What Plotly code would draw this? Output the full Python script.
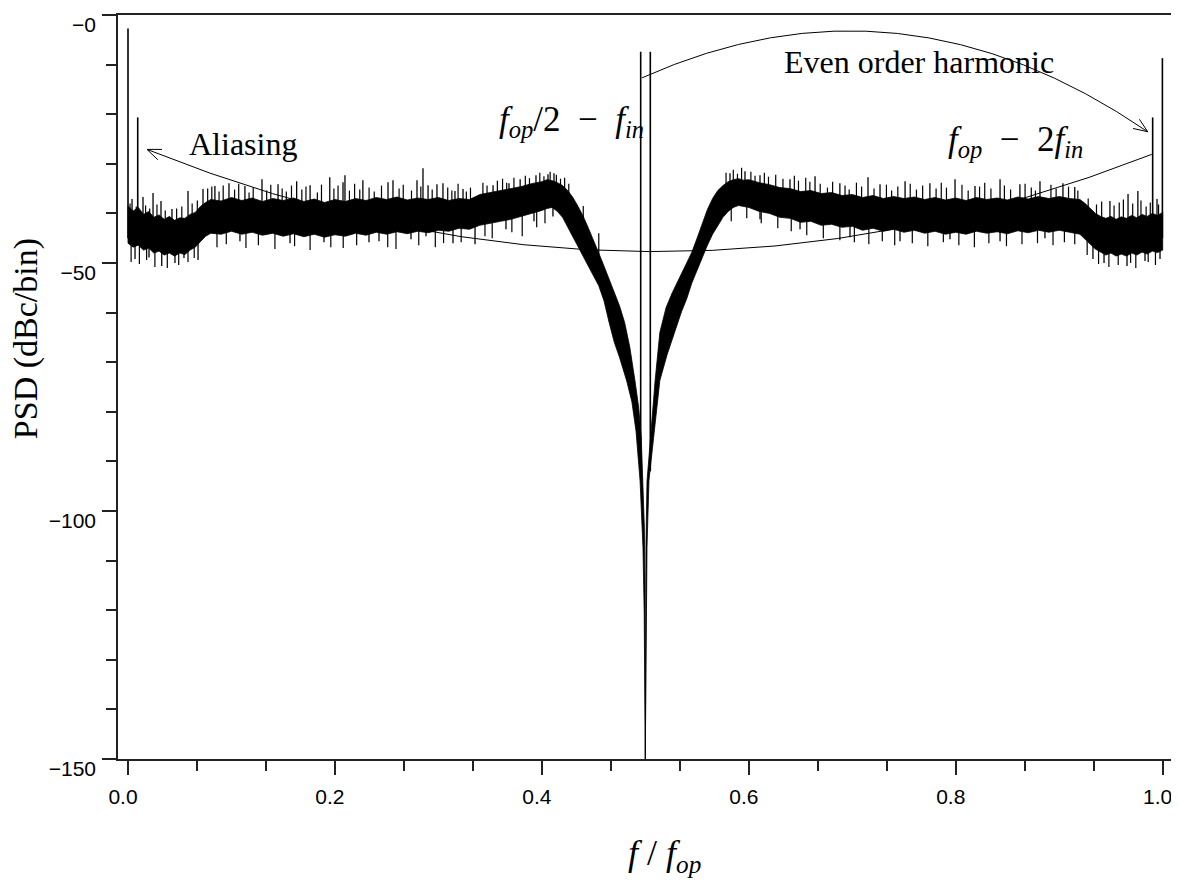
import math
import plotly.graph_objects as go

# ---------------- data ----------------
# upper edge of the dense noise band (f/f_op, dBc/bin)
upper_f = [0.000, 0.005, 0.010, 0.015, 0.020, 0.025, 0.030, 0.035, 0.040, 0.045,
           0.050, 0.055, 0.060, 0.065, 0.070, 0.075, 0.080, 0.090, 0.100, 0.110,
           0.120, 0.130, 0.140, 0.150, 0.160, 0.170, 0.180, 0.190, 0.200, 0.210,
           0.220, 0.230, 0.240, 0.250, 0.260, 0.270, 0.280, 0.290, 0.300, 0.310,
           0.320, 0.330, 0.340, 0.350, 0.360, 0.370, 0.380, 0.390, 0.400, 0.405,
           0.410, 0.415, 0.420, 0.425, 0.430, 0.435, 0.440, 0.445, 0.450, 0.455,
           0.460, 0.465, 0.470, 0.475, 0.480, 0.485, 0.490, 0.4935, 0.496, 0.4977,
           0.4990, 0.4997, 0.5001,
           0.5006, 0.5016, 0.5055, 0.5093, 0.5140, 0.5200, 0.5260, 0.5316, 0.5360,
           0.5400, 0.5450, 0.5500, 0.5550, 0.5600, 0.5650, 0.5700, 0.5750, 0.5800,
           0.5850, 0.5900, 0.5950, 0.6000, 0.6100, 0.6200, 0.6300, 0.6400, 0.6500,
           0.6600, 0.6700, 0.6800, 0.6900, 0.7000, 0.7100, 0.7200, 0.7300, 0.7400,
           0.7500, 0.7600, 0.7700, 0.7800, 0.7900, 0.8000, 0.8100, 0.8200, 0.8300,
           0.8400, 0.8500, 0.8600, 0.8700, 0.8800, 0.8900, 0.9000, 0.9100, 0.9200,
           0.9250, 0.9300, 0.9350, 0.9400, 0.9450, 0.9500, 0.9550, 0.9600, 0.9650,
           0.9700, 0.9750, 0.9800, 0.9850, 0.9900, 0.9950, 1.0000]
upper_v = [-38.5, -39.5, -38.8, -40.2, -39.6, -40.8, -40.3, -41.2, -40.6, -41.4,
           -40.9, -41.0, -40.2, -39.8, -38.6, -37.8, -37.2, -37.5, -36.8, -37.4,
           -36.9, -37.6, -37.0, -37.4, -36.9, -37.6, -37.1, -37.8, -37.2, -37.6,
           -37.0, -37.4, -36.8, -37.2, -36.7, -37.3, -36.9, -37.2, -36.8, -37.4,
           -37.0, -37.2, -36.2, -35.8, -35.4, -35.0, -34.6, -34.0, -33.6, -33.2,
           -33.4, -33.8, -34.4, -35.4, -36.8, -38.6, -40.6, -43.0, -45.4, -48.0,
           -50.6, -53.4, -56.0, -58.6, -62.0, -67.0, -73.8, -79.0, -85.0, -93.9,
           -103.0, -115.0, -150.0,
           -107.0, -94.0, -84.0, -74.0, -64.0, -59.0, -56.0, -53.6, -51.5,
           -50.0, -47.8, -45.0, -42.0, -39.2, -37.0, -35.4, -34.4, -33.6,
           -33.2, -33.0, -33.3, -33.2, -33.8, -34.2, -34.8, -35.0, -35.6,
           -35.4, -36.0, -35.8, -36.4, -36.2, -36.8, -36.4, -37.0, -36.6,
           -37.0, -36.7, -37.2, -36.8, -37.3, -36.9, -37.4, -36.8, -37.2,
           -36.9, -37.3, -36.7, -37.1, -36.6, -37.0, -36.6, -37.0, -37.2,
           -38.0, -39.0, -40.0, -40.6, -41.0, -40.6, -41.2, -40.7, -41.0,
           -40.4, -40.9, -40.2, -40.6, -40.0, -40.4, -39.8]

# lower edge of the dense noise band
lower_f = [0.000, 0.005, 0.010, 0.015, 0.020, 0.025, 0.030, 0.035, 0.040, 0.045,
           0.050, 0.055, 0.060, 0.065, 0.070, 0.075, 0.080, 0.090, 0.100, 0.110,
           0.120, 0.130, 0.140, 0.150, 0.160, 0.170, 0.180, 0.190, 0.200, 0.210,
           0.220, 0.230, 0.240, 0.250, 0.260, 0.270, 0.280, 0.290, 0.300, 0.310,
           0.320, 0.330, 0.340, 0.350, 0.360, 0.370, 0.380, 0.390, 0.400, 0.405,
           0.410, 0.415, 0.420, 0.425, 0.430, 0.435, 0.440, 0.445, 0.450, 0.455,
           0.460, 0.465, 0.470, 0.475, 0.482, 0.487, 0.491, 0.4949, 0.4977, 0.4989,
           0.4999,
           0.5003, 0.5010, 0.5016, 0.5035, 0.5084, 0.5140, 0.5210, 0.5287, 0.5350,
           0.5400, 0.5450, 0.5500, 0.5550, 0.5600, 0.5650, 0.5700, 0.5750, 0.5800,
           0.5850, 0.5900, 0.5950, 0.6000, 0.6100, 0.6200, 0.6300, 0.6400, 0.6500,
           0.6600, 0.6700, 0.6800, 0.6900, 0.7000, 0.7100, 0.7200, 0.7300, 0.7400,
           0.7500, 0.7600, 0.7700, 0.7800, 0.7900, 0.8000, 0.8100, 0.8200, 0.8300,
           0.8400, 0.8500, 0.8600, 0.8700, 0.8800, 0.8900, 0.9000, 0.9100, 0.9200,
           0.9250, 0.9300, 0.9350, 0.9400, 0.9450, 0.9500, 0.9550, 0.9600, 0.9650,
           0.9700, 0.9750, 0.9800, 0.9850, 0.9900, 0.9950, 1.0000]
lower_v = [-46.0, -46.8, -46.4, -47.4, -47.0, -48.0, -47.6, -48.4, -48.0, -48.6,
           -48.0, -48.3, -47.4, -46.8, -45.6, -44.6, -44.0, -44.2, -43.6, -44.2,
           -43.8, -44.4, -44.0, -44.6, -44.1, -44.7, -44.2, -44.8, -44.3, -44.6,
           -44.0, -44.4, -43.8, -44.2, -43.7, -44.1, -43.6, -43.9, -43.4, -43.6,
           -43.0, -43.2, -42.4, -42.0, -41.6, -41.2, -40.6, -40.0, -39.4, -39.0,
           -38.8, -39.6, -40.8, -42.6, -44.6, -46.6, -48.6, -50.6, -52.6, -54.6,
           -57.6, -62.0, -66.0, -69.0, -73.8, -78.0, -83.9, -93.9, -107.4, -120.7,
           -150.0,
           -150.0, -122.0, -107.3, -93.8, -83.8, -73.7, -68.5, -63.7, -59.8,
           -57.2, -54.0, -51.8, -49.0, -46.4, -44.2, -42.4, -40.8, -39.6,
           -38.8, -38.4, -38.6, -38.8, -39.6, -40.0, -40.8, -41.0, -41.8,
           -41.6, -42.4, -42.2, -42.8, -42.6, -43.4, -43.0, -43.6, -43.2,
           -43.8, -43.4, -44.0, -43.6, -44.2, -43.8, -44.2, -43.6, -44.0,
           -43.7, -44.1, -43.5, -43.9, -43.4, -43.8, -43.4, -43.8, -44.2,
           -45.2, -46.2, -47.2, -47.8, -48.4, -48.0, -48.6, -48.2, -48.6,
           -48.0, -48.4, -47.8, -48.2, -47.6, -47.9, -47.4]

# tall individual noise spikes: position, base inside band, tip
spike_f = [0.0039, 0.0145, 0.0242, 0.0319, 0.0425, 0.0580, 0.0725, 0.0840, 0.0976, 0.1130,
           0.1295, 0.1450, 0.1630, 0.1760, 0.1950, 0.2078, 0.2097, 0.2270, 0.2513, 0.2561,
           0.2793, 0.2851, 0.2900, 0.2986, 0.3044, 0.3160, 0.3238, 0.3528, 0.3682, 0.3790,
           0.3943, 0.4059, 0.4117,
           0.5818, 0.5963, 0.6108, 0.6398, 0.6640, 0.6880, 0.7152, 0.7268, 0.7510, 0.7750,
           0.7993, 0.8186, 0.8428, 0.8620, 0.8814, 0.9036, 0.9150, 0.9490, 0.9665, 0.9760,
           0.9945,
           0.0068, 0.0203, 0.0326, 0.0454, 0.0541, 0.0677, 0.1082, 0.1566, 0.1894, 0.2329,
           0.2426, 0.2735, 0.2880, 0.3141, 0.3354, 0.3653, 0.3924, 0.4107,
           0.6108, 0.6495, 0.6978, 0.7461, 0.7944, 0.8428, 0.8862, 0.9326, 0.9433, 0.9539,
           0.9655, 0.9829, 0.9974]
spike_base = [-43, -43, -43, -43, -43, -43, -41, -40, -40, -40,
              -40, -40, -40, -40, -40, -40, -40, -40, -40, -40,
              -40, -40, -40, -40, -40, -40, -40, -38, -37, -37,
              -36, -36, -36,
              -36, -36, -36, -38, -38, -39, -40, -40, -40, -40,
              -40, -40, -40, -40, -40, -40, -40, -44, -44, -44,
              -44,
              -43, -43, -43, -43, -43, -43, -40, -40, -40, -40,
              -40, -40, -40, -40, -40, -38, -36, -36,
              -36, -38, -40, -40, -40, -40, -40, -44, -44, -44,
              -44, -44, -44]
spike_tip = [-37.1, -36.7, -35.9, -37.5, -39.1, -35.5, -35.1, -34.5, -33.9, -34.5,
             -33.1, -34.1, -33.5, -34.3, -32.7, -33.7, -32.3, -33.3, -33.7, -33.3,
             -33.3, -30.9, -34.3, -34.1, -33.9, -35.5, -35.1, -34.3, -33.9, -33.1,
             -32.3, -32.1, -31.9,
             -31.9, -31.5, -32.3, -33.1, -32.5, -33.9, -32.7, -34.1, -33.5, -33.9,
             -33.1, -34.5, -33.1, -34.1, -33.5, -33.9, -34.7, -37.5, -36.1, -35.5,
             -37.1,
             -49.2, -48.9, -50.6, -50.0, -49.0, -49.4, -45.6, -46.0, -45.8, -45.8,
             -45.6, -45.2, -44.6, -46.0, -46.2, -43.2, -41.6, -40.6,
             -41.2, -43.2, -44.8, -45.6, -45.2, -45.6, -45.0, -49.2, -50.0, -48.2,
             -50.6, -49.6, -49.2]

# shorter noise spikes that make the ragged band edges
fine_f = [0.002, 0.008, 0.017, 0.021, 0.028, 0.036, 0.047, 0.052, 0.062, 0.067,
          0.077, 0.081, 0.088, 0.092, 0.103, 0.107, 0.117, 0.121, 0.134, 0.138,
          0.149, 0.153, 0.158, 0.168, 0.172, 0.183, 0.187, 0.199, 0.203, 0.214,
          0.219, 0.224, 0.233, 0.238, 0.245, 0.262, 0.266, 0.274, 0.283, 0.294,
          0.309, 0.313, 0.319, 0.327, 0.331,
          0.343, 0.347, 0.357, 0.362, 0.366, 0.373, 0.384, 0.388, 0.398, 0.402,
          0.408, 0.414, 0.418, 0.422, 0.426, 0.440, 0.455,
          0.578, 0.585, 0.589, 0.593, 0.602, 0.606, 0.615, 0.619, 0.626, 0.633,
          0.644, 0.648, 0.655, 0.659,
          0.669, 0.676, 0.681, 0.693, 0.697, 0.704, 0.709, 0.721, 0.733, 0.738,
          0.744, 0.756, 0.762, 0.768, 0.781, 0.786, 0.791, 0.806, 0.812, 0.823,
          0.828, 0.834, 0.847, 0.853, 0.867, 0.873, 0.877, 0.892, 0.897, 0.909,
          0.918,
          0.928, 0.936, 0.941, 0.953, 0.958, 0.962, 0.971, 0.979, 0.984, 0.988,
          0.996,
          0.003, 0.011, 0.018, 0.026, 0.038, 0.049, 0.058, 0.064,
          0.086, 0.095, 0.114, 0.126, 0.142, 0.161, 0.176, 0.196, 0.208, 0.221,
          0.251, 0.259, 0.281, 0.297, 0.305, 0.322,
          0.345, 0.352, 0.371, 0.381, 0.395, 0.403,
          0.583, 0.598, 0.612, 0.628, 0.641, 0.656,
          0.672, 0.688, 0.702, 0.716, 0.729, 0.741, 0.758, 0.773, 0.788, 0.803,
          0.818, 0.832, 0.849, 0.864, 0.879, 0.894, 0.905, 0.915,
          0.927, 0.938, 0.948, 0.957, 0.969, 0.974, 0.986, 0.993]
fine_base = [-43, -43, -43, -43, -43, -43, -43, -43, -43, -43,
             -40, -40, -40, -40, -40, -40, -40, -40, -40, -40,
             -40, -40, -40, -40, -40, -40, -40, -40, -40, -40,
             -40, -40, -40, -40, -40, -40, -40, -40, -40, -40,
             -40, -40, -40, -40, -40,
             -37, -37, -37, -37, -37, -37, -37, -37, -36, -36,
             -36, -36, -36, -37, -39, -44, -50,
             -36, -36, -36, -36, -36, -36, -36, -36, -36, -36,
             -37, -37, -38, -38,
             -40, -40, -40, -40, -40, -40, -40, -40, -40, -40,
             -40, -40, -40, -40, -40, -40, -40, -40, -40, -40,
             -40, -40, -40, -40, -40, -40, -40, -40, -40, -40,
             -40,
             -44, -44, -44, -44, -44, -44, -44, -44, -44, -44,
             -44,
             -43, -43, -43, -43, -43, -43, -43, -43,
             -40, -40, -40, -40, -40, -40, -40, -40, -40, -40,
             -40, -40, -40, -40, -40, -40,
             -37, -37, -37, -37, -37, -37,
             -36, -36, -36, -37, -38, -38,
             -40, -40, -40, -40, -40, -40, -40, -40, -40, -40,
             -40, -40, -40, -40, -40, -40, -40, -40,
             -44, -44, -44, -44, -44, -44, -44, -44]
fine_tip = [-38.0, -38.6, -38.4, -39.0, -38.2, -39.4, -39.0, -38.6, -38.0, -37.4,
            -35.0, -34.6, -35.6, -34.4, -35.2, -34.0, -35.8, -34.8, -35.4, -34.2,
            -35.0, -35.6, -34.4, -35.2, -34.6, -35.8, -34.2, -35.0, -34.4, -35.4,
            -34.0, -35.2, -34.8, -35.6, -34.4, -35.0, -34.2, -35.4, -34.6, -35.2,
            -34.8, -35.4, -34.0, -35.6, -34.8,
            -33.8, -34.4, -33.4, -33.0, -33.8, -32.8, -32.4, -32.9, -31.8, -32.5,
            -31.6, -32.2, -33.0, -32.8, -34.0, -38.5, -44.0,
            -31.8, -31.2, -32.0, -30.8, -31.6, -32.4, -31.8, -32.6, -32.2, -33.0,
            -32.4, -33.4, -32.8, -33.6,
            -34.0, -34.8, -33.6, -34.4, -35.2, -33.8, -34.6, -35.0, -34.2, -35.4,
            -34.6, -34.0, -35.2, -34.4, -35.0, -33.8, -34.8, -34.2, -35.4, -34.6,
            -33.8, -35.0, -34.4, -35.2, -34.0, -34.8, -35.4, -34.2, -35.0, -34.6,
            -35.4,
            -37.0, -38.2, -37.6, -38.4, -37.8, -37.2, -38.0, -37.4, -38.6, -37.8,
            -38.2,
            -49.8, -50.2, -49.4, -50.8, -51.0, -50.4, -49.8, -49.0,
            -46.8, -46.2, -47.0, -46.4, -47.2, -46.6, -47.4, -46.8, -47.0, -46.4,
            -46.8, -47.2, -46.4, -46.8, -46.0, -45.8,
            -44.6, -45.0, -43.8, -44.6, -42.8, -42.0,
            -41.6, -41.0, -42.0, -43.0, -43.6, -44.4,
            -45.0, -45.4, -45.8, -46.2, -45.6, -46.4, -46.0, -46.6, -45.8, -46.4,
            -46.8, -46.0, -46.6, -46.2, -46.0, -46.4, -45.8, -46.2,
            -48.4, -50.2, -50.8, -50.4, -50.0, -51.0, -49.8, -50.4]

# discrete tones
tone_f = [0.0000, 0.0094, 0.4955, 0.5048, 0.9903, 0.9997]
tone_top = [-2.7, -20.65, -7.4, -7.4, -20.65, -8.7]
tone_bottom = [-45.0, -46.0, -92.0, -92.0, -45.0, -45.0]

# axes
x_ticks = [0.0, 0.2, 0.4, 0.6, 0.8, 1.0]
x_ticktext = ["0.0", "0.2", "0.4", "0.6", "0.8", "1.0"]
x_minor = [1/15, 2/15, 4/15, 5/15, 7/15, 8/15, 10/15, 11/15, 13/15, 14/15]
y_ticks = [0, -50, -100, -150]
y_ticktext = ["\u22120", "\u221250", "\u2212100", "\u2212150"]
y_minor = [-10, -20, -30, -40, -60, -70, -80, -90, -110, -120, -130, -140]

# ---------------- figure ----------------
OFF = 8                      # page body margin offset
W, H = 1179 - OFF, 882 - OFF
ML, MR, MT, MB = 118 - OFF, 7, 13 - OFF, 123
XR = [-0.00966, 1.00899]
YR = [-150, 0]
pw, ph = W - ML - MR, H - MT - MB
sx = pw / (XR[1] - XR[0])
sy = ph / (YR[1] - YR[0])


def paper_x(px):
    return (px - OFF - ML) / pw


def paper_y(py):
    return (H - MB - (py - OFF)) / ph


def segments(xs, lo, hi):
    X, Y = [], []
    for f, a, b in zip(xs, lo, hi):
        X += [f, f, None]
        Y += [a, b, None]
    return X, Y


fig = go.Figure()

poly_x = upper_f + lower_f[::-1] + [upper_f[0]]
poly_y = upper_v + lower_v[::-1] + [upper_v[0]]
fig.add_trace(go.Scatter(x=poly_x, y=poly_y, mode="lines", fill="toself",
                         fillcolor="black", line=dict(color="black", width=0.8),
                         hoverinfo="skip", showlegend=False))

fx, fy = segments(fine_f, fine_base, fine_tip)
fig.add_trace(go.Scatter(x=fx, y=fy, mode="lines",
                         line=dict(color="black", width=1.2),
                         hoverinfo="skip", showlegend=False))

spx, spy = segments(spike_f, spike_base, spike_tip)
fig.add_trace(go.Scatter(x=spx, y=spy, mode="lines",
                         line=dict(color="black", width=1.3),
                         hoverinfo="skip", showlegend=False))

tx, ty = segments(tone_f, tone_bottom, tone_top)
fig.add_trace(go.Scatter(x=tx, y=ty, mode="lines",
                         line=dict(color="black", width=1.6),
                         hoverinfo="skip", showlegend=False))


def arrow_head(head, toward, length=15, half_angle=22):
    dx = (toward[0] - head[0]) * sx
    dy = (toward[1] - head[1]) * sy
    n = math.hypot(dx, dy)
    ux, uy = dx / n, dy / n
    pts = []
    for s in (1, -1):
        a = math.radians(half_angle) * s
        rx = ux * math.cos(a) - uy * math.sin(a)
        ry = ux * math.sin(a) + uy * math.cos(a)
        pts.append((head[0] + rx * length / sx, head[1] + ry * length / sy))
    return "M {:.5f},{:.4f} L {:.5f},{:.4f} L {:.5f},{:.4f}".format(
        pts[0][0], pts[0][1], head[0], head[1], pts[1][0], pts[1][1])


shapes = []
# Aliasing curve (right end at fop-2fin tone, arrow at the left)
a0, a1, a2 = (0.0184, -27.1), (0.504, -67.8), (0.9894, -28.1)
shapes.append(dict(type="path", xref="x", yref="y",
                   path="M {},{} Q {},{} {},{}".format(a2[0], a2[1], a1[0], a1[1], a0[0], a0[1]),
                   line=dict(color="black", width=1)))
shapes.append(dict(type="path", xref="x", yref="y", path=arrow_head(a0, a1),
                   line=dict(color="black", width=1)))
# Even order harmonic curve
e0, e1, e2 = (0.4968, -12.67), (0.7461, 10.66), (0.9855, -23.53)
shapes.append(dict(type="path", xref="x", yref="y",
                   path="M {},{} Q {},{} {},{}".format(e0[0], e0[1], e1[0], e1[1], e2[0], e2[1]),
                   line=dict(color="black", width=1)))
shapes.append(dict(type="path", xref="x", yref="y", path=arrow_head(e2, e1),
                   line=dict(color="black", width=1)))

serif = "Liberation Serif, Times New Roman, serif"
EN = "\u2002"
annotations = [
    dict(x=0.111, y=-26.1, xref="x", yref="y", text="Aliasing", showarrow=False,
         xanchor="center", yanchor="middle",
         font=dict(family=serif, size=32, color="black")),
    dict(x=0.7645, y=-9.45, xref="x", yref="y", text="Even order harmonic", showarrow=False,
         xanchor="center", yanchor="middle",
         font=dict(family=serif, size=32, color="black")),
    dict(x=0.4285, y=-21.4, xref="x", yref="y",
         text="<i>f</i><sub><i>op</i></sub>/2" + EN + "\u2212" + EN + "<i>f</i><sub><i>in</i></sub>",
         showarrow=False, xanchor="center", yanchor="middle",
         font=dict(family=serif, size=35, color="black")),
    dict(x=0.858, y=-25.5, xref="x", yref="y",
         text="<i>f</i><sub><i>op</i></sub>" + EN + "\u2212" + EN + "2<i>f</i><sub><i>in</i></sub>",
         showarrow=False, xanchor="center", yanchor="middle",
         font=dict(family=serif, size=35, color="black")),
    dict(x=paper_x(664), y=paper_y(856), xref="paper", yref="paper",
         text="<i>f</i> / <i>f</i><sub><i>op</i></sub>", showarrow=False,
         xanchor="center", yanchor="middle",
         font=dict(family=serif, size=36, color="black")),
    dict(x=paper_x(26), y=paper_y(338), xref="paper", yref="paper",
         text="PSD (dBc/bin)", textangle=-90, showarrow=False,
         xanchor="center", yanchor="middle",
         font=dict(family=serif, size=34, color="black")),
]

axis_common = dict(showline=True, linecolor="#222", linewidth=1.5, mirror=True,
                   ticks="outside", tickwidth=1.5, tickcolor="#222", ticklen=14,
                   showgrid=False, zeroline=False, ticklabeloverflow="allow",
                   tickfont=dict(family="Liberation Sans, Arial, sans-serif", size=21, color="black"))

fig.update_layout(
    width=W, height=H,
    margin=dict(l=ML, r=MR, t=MT, b=MB),
    paper_bgcolor="white", plot_bgcolor="white",
    showlegend=False,
    shapes=shapes,
    annotations=annotations,
    xaxis=dict(range=XR, tickvals=x_ticks, ticktext=x_ticktext,
               ticklabelstandoff=4, ticklabelshift=-5,
               minor=dict(tickvals=x_minor, ticks="outside", ticklen=10,
                          tickwidth=1.5, tickcolor="#222"),
               **axis_common),
    yaxis=dict(range=YR, tickvals=y_ticks, ticktext=y_ticktext,
               ticklabelshift=10, ticklabelstandoff=2,
               minor=dict(tickvals=y_minor, ticks="outside", ticklen=10,
                          tickwidth=1.5, tickcolor="#222"),
               **axis_common),
)

fig.write_html("out.html")
